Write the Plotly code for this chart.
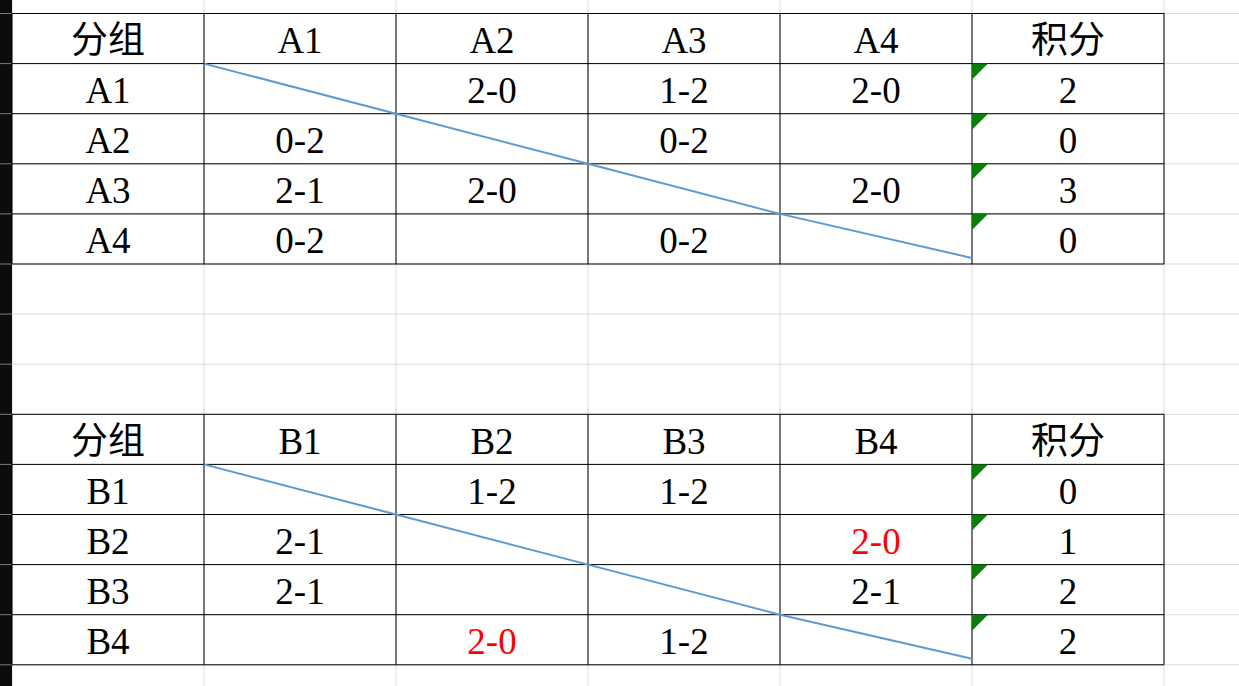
import plotly.graph_objects as go

# ─────────────────────────────────────────────
# Data: two round-robin score tables
# ─────────────────────────────────────────────
header_label = "分组"
points_label = "积分"

teams_a = ["A1", "A2", "A3", "A4"]
results_a = [
    ["", "2-0", "1-2", "2-0"],
    ["0-2", "", "0-2", ""],
    ["2-1", "2-0", "", "2-0"],
    ["0-2", "", "0-2", ""],
]
points_a = ["2", "0", "3", "0"]

teams_b = ["B1", "B2", "B3", "B4"]
results_b = [
    ["", "1-2", "1-2", ""],
    ["2-1", "", "", "2-0"],
    ["2-1", "", "", "2-1"],
    ["", "2-0", "1-2", ""],
]
points_b = ["0", "1", "2", "2"]
# cells shown in red (row, col) in table B
red_cells_b = [(1, 3), (3, 1)]

# ─────────────────────────────────────────────
# Sheet geometry (1 unit = one column / one row)
# ─────────────────────────────────────────────
COL_PX = 192
ROW_PX = 50.1
W, H = 1239, 686
LEFT_PX, TOP_PX = 12, 13.5

x_range = [-LEFT_PX / COL_PX, (W - LEFT_PX) / COL_PX]
y_range = [(H - TOP_PX) / ROW_PX, -TOP_PX / ROW_PX]

GRID = "#dadada"
BLUE = "#5b9bd5"
GREEN = "#0a7d0a"
FONT = "Liberation Serif, Noto Sans CJK SC, serif"

fig = go.Figure()
shapes = []

# light spreadsheet gridlines
for c in range(0, 8):
    shapes.append(dict(type="line", x0=c, x1=c, y0=y_range[1], y1=y_range[0],
                       line=dict(color=GRID, width=1), layer="below"))
for r in range(-1, 15):
    shapes.append(dict(type="line", x0=0, x1=x_range[1], y0=r, y1=r,
                       line=dict(color=GRID, width=1), layer="below"))

# dark row-header strip on the left
shapes.append(dict(type="rect", x0=x_range[0], x1=0, y0=y_range[1], y1=y_range[0],
                   fillcolor="#0c0c0c", line=dict(width=0)))
for r in range(-1, 15):
    shapes.append(dict(type="line", x0=x_range[0], x1=0, y0=r, y1=r,
                       line=dict(color="#7a7a7a", width=1)))


def add_table(top, teams, results, points, red_cells=()):
    # black borders
    for r in range(top, top + 6):
        shapes.append(dict(type="line", x0=0, x1=6, y0=r, y1=r,
                           line=dict(color="black", width=1)))
    for c in range(0, 7):
        shapes.append(dict(type="line", x0=c, x1=c, y0=top, y1=top + 5,
                           line=dict(color="black", width=1)))
    # diagonal borders on self-match cells (last one stops a little short)
    n = len(teams)
    for i in range(n):
        end = 0.88 if i == n - 1 else 1.0
        shapes.append(dict(type="line", x0=1 + i, x1=2 + i, y0=top + 1 + i, y1=top + 1 + i + end,
                           line=dict(color=BLUE, width=2)))
    # green "number stored as text" markers
    tw, th = 16 / COL_PX, 16 / ROW_PX
    for i in range(len(points)):
        y0 = top + 1 + i
        shapes.append(dict(type="path",
                           path=f"M 5 {y0} L {5 + tw} {y0} L 5 {y0 + th} Z",
                           fillcolor=GREEN, line=dict(width=0)))

    xs, ys, txt, cols = [], [], [], []
    header = [header_label] + teams + [points_label]
    for c, label in enumerate(header):
        xs.append(c + 0.5); ys.append(top + 0.5); txt.append(label); cols.append("black")
    for i, team in enumerate(teams):
        row = [team] + results[i] + [points[i]]
        for c, val in enumerate(row):
            if val == "":
                continue
            xs.append(c + 0.5); ys.append(top + 1.5 + i); txt.append(val)
            cols.append("red" if (i, c - 1) in red_cells else "black")
    fig.add_trace(go.Scatter(
        x=xs, y=[y + 0.1 for y in ys], mode="text", text=txt,
        textfont=dict(family=FONT, size=37, color=cols),
        hoverinfo="skip", showlegend=False,
    ))


add_table(0, teams_a, results_a, points_a)
add_table(8, teams_b, results_b, points_b, red_cells_b)

fig.update_layout(
    width=W, height=H,
    margin=dict(l=0, r=0, t=0, b=0),
    paper_bgcolor="white", plot_bgcolor="white",
    shapes=shapes,
    showlegend=False,
)
fig.update_xaxes(range=x_range, visible=False, fixedrange=True)
fig.update_yaxes(range=y_range, visible=False, fixedrange=True)

# drop the browser's default body margin so the sheet sits flush at the corner
fig.write_html("out.html", config={"displayModeBar": False},
               post_script="document.body.style.margin='0';")
